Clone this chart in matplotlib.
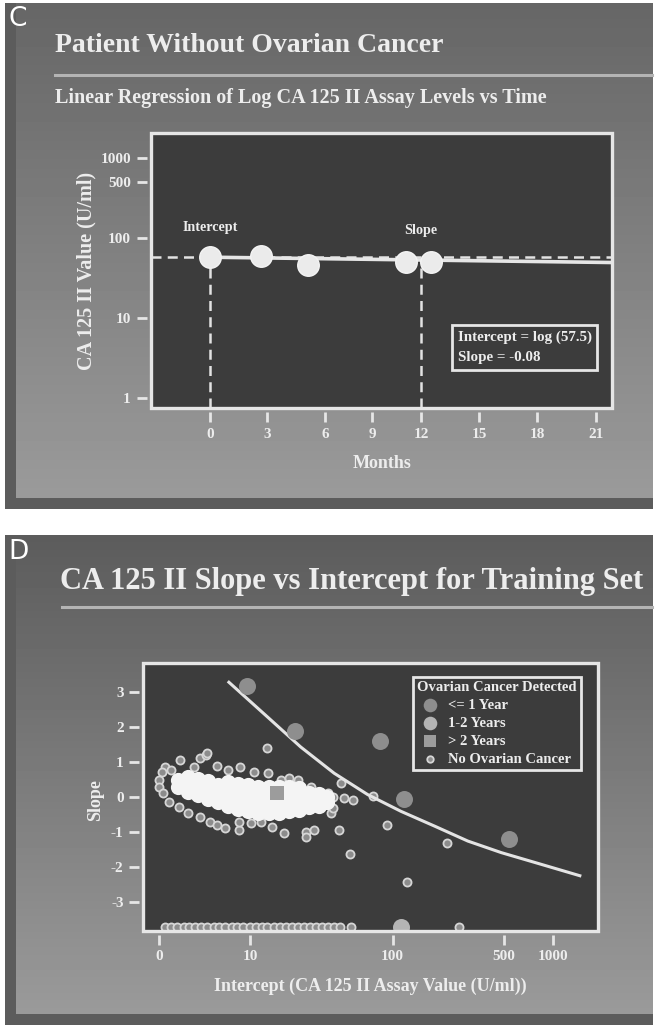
import numpy as np
import matplotlib
matplotlib.use("Agg")
import matplotlib.pyplot as plt
from matplotlib.lines import Line2D
from matplotlib.patches import Rectangle

# ---------------- data: panel C ----------------
c_months = [0.0, 2.7, 5.1, 11.1, 12.5]
c_values = [57.5, 59.6, 46.0, 50.1, 50.0]
c_reg_months = [0.0, 21.9]
c_reg_values = [57.5, 49.3]
c_intercept_value = 57.5
c_slope_month = 12.0
c_slope_value = 52.9
c_xticks = [0, 3, 6, 9, 12, 15, 18, 21]
c_yticks = [1, 10, 100, 500, 1000]
c_ytick_labels = ["1", "10", "100", "500", "1000"]

# ---------------- data: panel D ----------------
d_le1_x = [9.4, 22.2, 82.9, 117.5, 533.0]
d_le1_y = [3.18, 1.89, 1.6, -0.06, -1.21]
d_12_x = [113.0]
d_12_y = [-3.71]
d_gt2_x = [16.5]
d_gt2_y = [0.11]

d_nc_x = [1.32, 3.0, 3.6, 4.8, 0.34, 0.17, 0.7, 6.3, 8.2, 10.7, 13.9, 13.8, 17.4, 20.0, 23.2,
          28.7, 37.5, 41.0, 46.0, 55.0, 74.4, 0.0, 0.0, 0.2, 0.54, 1.2, 1.9, 3.0, 4.05, 4.8,
          5.8, 7.9, 7.9, 10.1, 12.2, 15.1, 18.5, 26.5, 26.5, 30.3, 44.6, 39.4, 41.0, 91.6,
          52.8, 220.0, 123.0, 262.0, 2.4, 48.0, 53.6, 3.7]
d_nc_y = [1.06, 1.11, 1.2, 0.89, 0.86, 0.71, 0.77, 0.77, 0.86, 0.71, 0.69, 1.4, 0.49, 0.54, 0.49,
          0.29, 0.11, 0.0, 0.4, -0.09, 0.02, 0.49, 0.29, 0.11, -0.14, -0.29, -0.46, -0.57, -0.71, -0.8,
          -0.89, -0.94, -0.71, -0.74, -0.71, -0.86, -1.03, -1.0, -1.14, -0.94, -0.94, -0.46, -0.31, -0.8,
          -1.64, -1.32, -2.42, -3.71, 0.86, -0.03, -3.71, 1.25]

# dense core of the no-cancer cloud
d_core_x = [1.18, 1.18,
            1.94, 1.94, 1.94,
            2.81, 2.81, 2.81,
            3.83, 3.83, 3.83,
            4.99, 4.99, 4.99,
            6.34, 6.34, 6.34, 6.34,
            7.88, 7.88, 7.88, 7.88,
            9.66, 9.66, 9.66, 9.66,
            11.7, 11.7, 11.7, 11.7,
            14.1, 14.1, 14.1, 14.1,
            16.8, 16.8, 16.8, 16.8,
            20.0, 20.0, 20.0, 20.0,
            23.6, 23.6, 23.6, 23.6,
            27.8, 27.8, 27.8,
            32.6, 32.6, 32.6,
            37.0, 37.0]
d_core_y = [0.3, 0.5,
            0.15, 0.38, 0.58,
            0.05, 0.3, 0.52,
            -0.05, 0.2, 0.45,
            -0.15, 0.1, 0.35,
            -0.25, 0.0, 0.25, 0.42,
            -0.35, -0.1, 0.15, 0.38,
            -0.4, -0.15, 0.1, 0.35,
            -0.45, -0.2, 0.05, 0.3,
            -0.45, -0.2, 0.05, 0.3,
            -0.45, -0.2, 0.05, 0.28,
            -0.4, -0.15, 0.1, 0.28,
            -0.38, -0.15, 0.1, 0.25,
            -0.3, -0.08, 0.12,
            -0.25, -0.05, 0.1,
            -0.15, 0.0]

# row of patients clipped at the bottom of the slope axis
d_floor_x = [0.3, 0.7, 1.1, 1.6, 2.0, 2.5, 3.1, 3.7, 4.4, 5.1, 5.9, 6.8, 7.7, 8.7, 9.9,
             11.1, 12.4, 13.8, 15.4, 17.1, 19.0, 21.0, 23.2, 25.6, 28.2, 31.0, 34.2, 37.6, 41.3, 45.3]
d_floor_y = [-3.71] * len(d_floor_x)

d_curve_x = [6.4, 13.8, 24.4, 41.5, 69.0, 113.0, 183.7, 297.5, 480.0, 773.0, 1468.0]
d_curve_y = [3.28, 2.29, 1.43, 0.68, 0.07, -0.41, -0.83, -1.26, -1.59, -1.87, -2.25]

d_xticks = [0, 10, 100, 500, 1000]
d_xtick_labels = ["0", "10", "100", "500", "1000"]
d_yticks = [3, 2, 1, 0, -1, -2, -3]
d_ytick_labels = ["3", "2", "1", "0", "-1", "-2", "-3"]

# ---------------- layout ----------------
W, H = 657, 1026
fig = plt.figure(figsize=(W / 100, H / 100), dpi=100, facecolor="white")
SERIF = ["Liberation Serif", "DejaVu Serif"]
TXT = "#ededed"
FRAME = "#e6e6e6"
PLOTBG = "#3c3c3c"


def rect(l, t, r, b):
    return [l / W, 1 - b / H, (r - l) / W, (b - t) / H]


def fx(px):
    return px / W


def fy(py):
    return 1 - py / H


# background slides (decoration)
bg = np.ones((H, W))
rows = np.arange(H)[:, None]
cols = np.arange(W)[None, :]
inC = (rows >= 3) & (rows <= 508) & (cols >= 5) & (cols <= 652)
inD = (rows >= 535) & (rows <= 1024) & (cols >= 5) & (cols <= 652)
gC = 0.40 + 0.21 * (rows - 3) / 505.0
gD = 0.36 + 0.25 * (rows - 535) / 489.0
bg = np.where(inC, gC * np.ones_like(bg), bg)
bg = np.where(inD, gD * np.ones_like(bg), bg)
edgeC = inC & ((cols < 16) | (rows > 497))
edgeD = inD & ((cols < 16) | (rows > 1013))
bg = np.where(edgeC | edgeD, 0.36, bg)
bax = fig.add_axes([0, 0, 1, 1], zorder=-10)
bax.imshow(bg, cmap="gray", vmin=0, vmax=1, aspect="auto", interpolation="nearest")
bax.axis("off")


def style_axes(ax, tick_len):
    ax.set_facecolor(PLOTBG)
    for s in ax.spines.values():
        s.set_visible(False)
    ax.spines["left"].set_position(("outward", 3))
    ax.spines["bottom"].set_position(("outward", 3))
    ax.add_patch(Rectangle((0, 0), 1, 1, transform=ax.transAxes, fill=False,
                           edgecolor=FRAME, lw=2.4, clip_on=False, zorder=10))
    ax.tick_params(which="both", direction="out", length=tick_len, width=2.0,
                   color=FRAME, labelcolor=TXT, pad=4)
    ax.tick_params(which="minor", length=0)
    for lab in ax.get_xticklabels() + ax.get_yticklabels():
        lab.set_fontfamily(SERIF)
        lab.set_fontweight("bold")
        lab.set_fontsize(11)


# ================= PANEL C =================
fig.text(fx(8), fy(19), "C", fontsize=19, color="white", family="DejaVu Sans",
         va="center", ha="left")
fig.text(fx(55), fy(45), "Patient Without Ovarian Cancer", fontsize=20, weight="bold",
         family=SERIF, color=TXT, va="center", ha="left")
fig.add_artist(Line2D([fx(55), fx(652)], [fy(75), fy(75)], color="#b4b4b4", lw=2.2))
fig.text(fx(55), fy(98), "Linear Regression of Log CA 125 II Assay Levels vs Time", fontsize=14.5,
         weight="bold", family=SERIF, color=TXT, va="center", ha="left")

axC = fig.add_axes(rect(151, 133, 612, 408))
# month axis of the slide has uneven tick spacing: piecewise-linear scale
knot_m = np.array([-6, 0, 3, 6, 9, 12, 15, 18, 21, 24], dtype=float)
knot_p = np.array([95, 210, 267, 325, 372, 421, 479, 537, 596, 655], dtype=float)
axC.set_xscale("function", functions=(lambda m: np.interp(m, knot_m, knot_p),
                                       lambda p: np.interp(p, knot_p, knot_m)))
axC.set_yscale("log")
axC.set_xlim(np.interp(151, knot_p, knot_m), np.interp(612, knot_p, knot_m))
axC.set_ylim(0.75, 2050)
axC.set_xticks(c_xticks)
axC.set_xticklabels([str(t) for t in c_xticks])
axC.set_yticks(c_yticks)
axC.set_yticklabels(c_ytick_labels)
axC.yaxis.set_minor_locator(matplotlib.ticker.NullLocator())
style_axes(axC, 7.5)

dash = dict(color="#e2e2e2", lw=1.8, dashes=(4, 2.5))
axC.axhline(c_intercept_value, **dash, zorder=2)
axC.plot([0, 0], [0.75, c_intercept_value], **dash, zorder=2)
axC.plot([c_slope_month, c_slope_month], [0.75, c_slope_value], **dash, zorder=2)
axC.plot(c_reg_months, c_reg_values, color="#e6e6e6", lw=2.6, solid_capstyle="butt", zorder=3)
axC.plot(c_months, c_values, "o", ms=15.5, mfc="#ebebeb", mec="#f4f4f4", mew=1, zorder=4)

axC.annotate("Intercept", (0, c_intercept_value), xytext=(0, 21.5), textcoords="offset points",
             ha="center", va="center", fontsize=10.2, weight="bold", family=SERIF, color=TXT)
axC.annotate("Slope", (c_slope_month, c_slope_value), xytext=(0, 21), textcoords="offset points",
             ha="center", va="center", fontsize=10.2, weight="bold", family=SERIF, color=TXT)
axC.text(0.665, 0.22, "Intercept = log (57.5)\nSlope = -0.08", transform=axC.transAxes,
         fontsize=10.8, weight="bold", family=SERIF, color=TXT, va="center", ha="left",
         linespacing=1.75,
         bbox=dict(boxstyle="square,pad=0.35", fc=PLOTBG, ec=FRAME, lw=2))

fig.text(fx(86), fy(271), "CA 125 II Value (U/ml)", rotation=90, fontsize=14.5, weight="bold",
         family=SERIF, color=TXT, va="center", ha="center")
fig.text(fx(382), fy(464), "Months", fontsize=13, weight="bold", family=SERIF, color=TXT,
         va="center", ha="center")

# ================= PANEL D =================
fig.text(fx(8), fy(552), "D", fontsize=19, color="white", family="DejaVu Sans",
         va="center", ha="left")
fig.text(fx(60), fy(582), "CA 125 II Slope vs Intercept for Training Set", fontsize=22,
         weight="bold", family=SERIF, color=TXT, va="center", ha="left")
fig.add_artist(Line2D([fx(62), fx(652)], [fy(607), fy(607)], color="#b4b4b4", lw=2.2))

axD = fig.add_axes(rect(143, 663, 598, 931))
OFF = 3.8
axD.set_xscale("function", functions=(lambda x: np.log10(np.clip(np.asarray(x) + OFF, 1e-6, None)),
                                       lambda u: 10 ** np.asarray(u) - OFF))
axD.set_xlim(-0.78, 1900)
axD.set_ylim(-3.83, 3.83)
axD.set_xticks(d_xticks)
axD.set_xticklabels(d_xtick_labels)
axD.set_yticks(d_yticks)
axD.set_yticklabels(d_ytick_labels)
axD.xaxis.set_minor_locator(matplotlib.ticker.NullLocator())
style_axes(axD, 7)

ring = dict(marker="o", s=34, facecolors="#8c8c8c", edgecolors="#d6d6d6", linewidths=1.3)
h_nc = axD.scatter(d_nc_x, d_nc_y, zorder=3, **ring, label="No Ovarian Cancer")
axD.scatter(d_floor_x, d_floor_y, zorder=3, **ring)
axD.scatter(d_core_x, d_core_y, zorder=4, marker="o", s=120, c="#f4f4f4", linewidths=0)
axD.plot(d_curve_x, d_curve_y, color="#e4e4e4", lw=2.2, zorder=5)
h1 = axD.scatter(d_le1_x, d_le1_y, s=150, c="#8e8e8e", linewidths=0, zorder=6, label="<= 1 Year")
h2 = axD.scatter(d_12_x, d_12_y, s=150, c="#b4b4b4", linewidths=0, zorder=6, label="1-2 Years")
h3 = axD.scatter(d_gt2_x, d_gt2_y, s=110, marker="s", c="#9c9c9c", linewidths=0, zorder=6,
                 label="> 2 Years")

font_leg = matplotlib.font_manager.FontProperties(family=SERIF, weight="bold", size=10.5)
leg = axD.legend(handles=[h1, h2, h3, h_nc], loc="upper left", bbox_to_anchor=(0.593, 0.949),
                 title="Ovarian Cancer Detected", title_fontproperties=font_leg, prop=font_leg,
                 frameon=True, fancybox=False, framealpha=1, facecolor=PLOTBG, edgecolor=FRAME,
                 borderpad=0.3, labelspacing=0.32, handletextpad=0.3, handlelength=1.8,
                 borderaxespad=0, alignment="left", labelcolor=TXT, markerscale=0.8)
leg.get_frame().set_linewidth(2)
leg.get_title().set_color(TXT)
leg.set_zorder(20)

fig.text(fx(96), fy(800), "Slope", rotation=90, fontsize=13, weight="bold", family=SERIF,
         color=TXT, va="center", ha="center")
fig.text(fx(370), fy(986), "Intercept (CA 125 II Assay Value (U/ml))", fontsize=13,
         weight="bold", family=SERIF, color=TXT, va="center", ha="center")

fig.savefig("out.png", dpi=100, facecolor="white")
